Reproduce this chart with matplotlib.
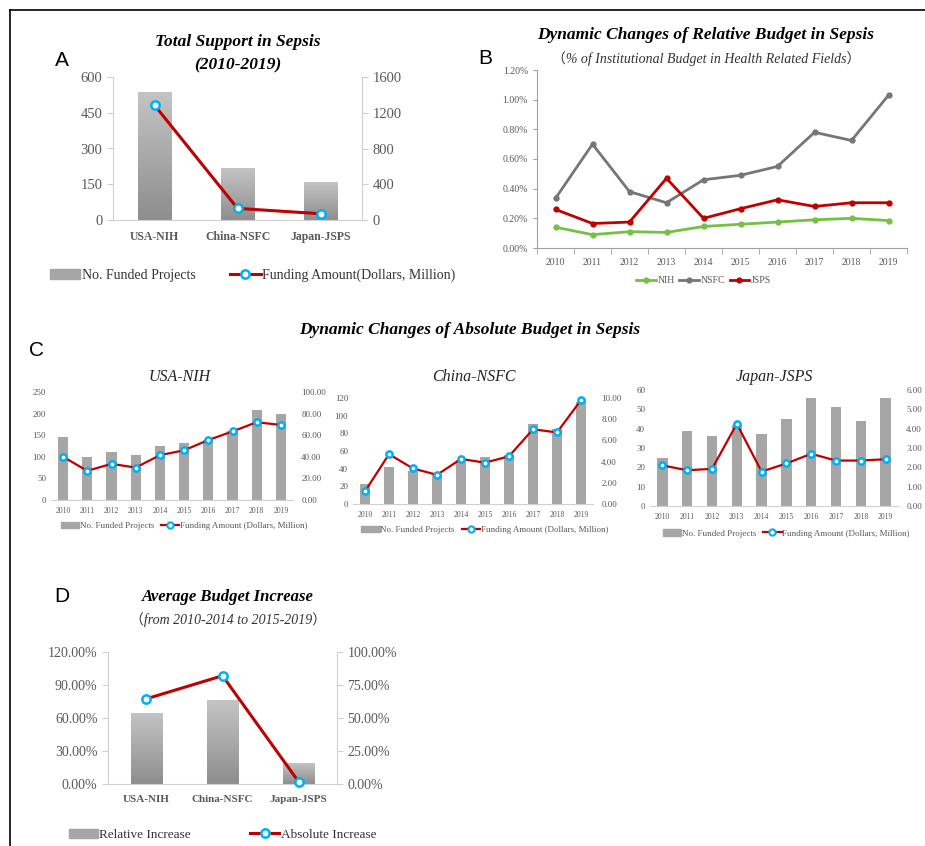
"""
Research funding for sepsis: NIH, NSFC and JSPS, 2010-2019.

A: total support, B: relative budget, C: absolute budget per agency,
D: average budget increase.
"""

import numpy as np
import matplotlib.pyplot as plt
from matplotlib.patches import Patch
from matplotlib.lines import Line2D

# --- Data ------------------------------------------------------------------
agencies = ['USA-NIH', 'China-NSFC', 'Japan-JSPS']
years = [str(y) for y in range(2010, 2020)]

# A: totals 2010-2019
total_projects = [538, 218, 159]
total_funding = [1285, 130, 70]

# B: % of institutional budget in health related fields
rel_nih = [0.14, 0.09, 0.11, 0.105, 0.145, 0.16, 0.175, 0.19, 0.20, 0.185]
rel_nsfc = [0.335, 0.70, 0.38, 0.305, 0.46, 0.49, 0.55, 0.78, 0.725, 1.03]
rel_jsps = [0.26, 0.165, 0.175, 0.47, 0.20, 0.265, 0.325, 0.28, 0.305, 0.305]

# C: yearly projects and funding (Dollars, Million)
nih_projects = [145, 100, 112, 104, 125, 133, 140, 160, 208, 200]
nih_funding = [40, 27, 33.5, 30, 41.5, 46, 55.5, 63.5, 72, 69.5]
nsfc_projects = [23, 42, 37, 33, 50, 53, 55, 90, 85, 115]
nsfc_funding = [1.2, 4.7, 3.35, 2.75, 4.25, 3.9, 4.5, 7.05, 6.75, 9.8]
jsps_projects = [25, 39, 36, 42, 37, 45, 56, 51, 44, 56]
jsps_funding = [2.1, 1.85, 1.92, 4.25, 1.78, 2.2, 2.7, 2.35, 2.35, 2.42]

# D: average increase from 2010-2014 to 2015-2019 (%)
rel_increase = [65, 76, 19.5]
abs_increase = [64.5, 82, 1.5]

# --- Style -----------------------------------------------------------------
plt.rcParams['font.family'] = ['Liberation Serif', 'DejaVu Serif']
W, H = 925, 846
TXT = '#595959'
SPINE = '#d0d0d0'
RED = '#c00000'
BLUE = '#00b0f0'
BAR = '#a6a6a6'

fig = plt.figure(figsize=(W / 100, H / 100), dpi=100)


def rect(x0, y0, x1, y1):
    return [x0 / W, 1 - y1 / H, (x1 - x0) / W, (y1 - y0) / H]


def ftext(x, y, s, **kw):
    fig.text(x / W, 1 - y / H, s, **kw)


def style(ax, fs, left_spine=True):
    for s in ['top', 'right']:
        ax.spines[s].set_visible(False)
    ax.spines['left'].set_visible(left_spine)
    ax.spines['left'].set_color(SPINE)
    ax.spines['bottom'].set_color(SPINE)
    ax.tick_params(axis='both', colors=SPINE, labelcolor=TXT, labelsize=fs,
                   length=4)
    ax.tick_params(axis='x', length=0)


def gradient_bars(ax, x, h, width):
    bars = ax.bar(x, h, width, color='none', edgecolor='none', zorder=2)
    grad = np.linspace(0, 1, 100).reshape(-1, 1)
    cmap = plt.matplotlib.colors.LinearSegmentedColormap.from_list(
        'g', ['#8e8e8e', '#c4c4c4'])
    for b in bars:
        x0, y0 = b.get_x(), b.get_y()
        im = ax.imshow(grad, cmap=cmap,
                       extent=[x0, x0 + b.get_width(), y0, y0 + b.get_height()],
                       origin='lower', aspect='auto', zorder=2)
        im.set_clip_path(b)
    return bars


def line_markers(ax, x, y, lw=2.2, ms=6):
    ax.plot(x, y, color=RED, lw=lw, marker='o', ms=ms, mfc='white',
            mec=BLUE, mew=1.8, zorder=5, clip_on=False)


# --- Frame -----------------------------------------------------------------
fig.add_artist(Line2D([10 / W, 10 / W], [0, 1 - 10 / H], color='black', lw=1.2))
fig.add_artist(Line2D([10 / W, 1], [1 - 10 / H, 1 - 10 / H], color='black', lw=1.2))

# --- A ---------------------------------------------------------------------
axA = fig.add_axes(rect(113, 77, 362, 220))
xa = np.arange(len(agencies))
gradient_bars(axA, xa, total_projects, 0.4)
axA.set_xlim(-0.5, 2.5)
axA.set_ylim(0, 600)
axA.set_yticks([0, 150, 300, 450, 600])
axA.set_xticks(xa)
axA.set_xticklabels(agencies, fontweight='bold')
style(axA, 10.5)
axA.tick_params(axis='x', labelsize=8.5, pad=8)
axA2 = axA.twinx()
line_markers(axA2, xa, total_funding)
axA2.set_ylim(0, 1600)
axA2.set_yticks([0, 400, 800, 1200, 1600])
for s in ['top', 'left', 'bottom']:
    axA2.spines[s].set_visible(False)
axA2.spines['right'].set_color(SPINE)
axA2.tick_params(axis='y', colors=SPINE, labelcolor=TXT, labelsize=10.5, length=4)
axA.legend(handles=[Patch(color=BAR, label='No. Funded Projects'),
                    Line2D([], [], color=RED, lw=2.2, marker='o', ms=6,
                           mfc='white', mec=BLUE, mew=1.8,
                           label='Funding Amount(Dollars, Million)')],
           loc='upper center', bbox_to_anchor=(0.56, -0.25), ncol=2,
           frameon=False, fontsize=10, labelcolor='#333333',
           handlelength=2.2, handletextpad=0.1, columnspacing=2.5)
ftext(238, 42, 'Total Support in Sepsis', ha='center', va='center',
      fontsize=12.5, fontweight='bold', style='italic')
ftext(238, 65, '(2010-2019)', ha='center', va='center',
      fontsize=12.5, fontweight='bold', style='italic')
ftext(62, 60, 'A', fontsize=15, family='Liberation Sans', va='center', ha='center')

# --- B ---------------------------------------------------------------------
axB = fig.add_axes(rect(537, 70, 907, 248))
xb = np.arange(len(years))
axB.plot(xb, rel_nih, color='#76c043', lw=2.0, marker='o', ms=3.5, label='NIH')
axB.plot(xb, rel_nsfc, color='#767676', lw=2.0, marker='o', ms=3.5, label='NSFC')
axB.plot(xb, rel_jsps, color=RED, lw=2.0, marker='o', ms=3.5, label='JSPS')
axB.set_xlim(-0.5, 9.5)
axB.set_ylim(0, 1.2)
axB.set_yticks(np.arange(0, 1.21, 0.2))
axB.set_yticklabels([f'{v:.2f}%' for v in np.arange(0, 1.21, 0.2)])
axB.set_xticks(xb)
axB.set_xticklabels(years)
style(axB, 7)
axB.spines['left'].set_color('#a0a0a0')
axB.spines['bottom'].set_color('#a0a0a0')
axB.tick_params(axis='y', colors='#a0a0a0', labelcolor=TXT, length=3)
axB.set_xticks(np.arange(-0.5, 10, 1), minor=True)
axB.tick_params(axis='x', which='minor', length=4, colors='#a0a0a0')
axB.tick_params(axis='x', pad=7)
axB.legend(loc='upper center', bbox_to_anchor=(0.45, -0.11), ncol=3,
           frameon=False, fontsize=7, labelcolor=TXT, handlelength=2.0,
           handletextpad=0.15, columnspacing=0.5)
ftext(706, 35, 'Dynamic Changes of Relative Budget in Sepsis', ha='center',
      va='center', fontsize=12.5, fontweight='bold', style='italic')
ftext(706, 59, '（% of Institutional Budget in Health Related Fields）',
      ha='center', va='center', fontsize=10, style='italic', color='#333333',
      family=['Liberation Serif', 'Noto Sans CJK SC'])
ftext(485, 58, 'B', fontsize=15, family='Liberation Sans', va='center', ha='center')

# --- C ---------------------------------------------------------------------
ftext(470, 330, 'Dynamic Changes of Absolute Budget in Sepsis', ha='center',
      va='center', fontsize=12.5, fontweight='bold', style='italic')
ftext(36, 350, 'C', fontsize=15, family='Liberation Sans', va='center', ha='center')

c_panels = [
    ('USA-NIH', (51, 392, 293, 500), nih_projects, nih_funding,
     (0, 250, 50), (0, 100, 20), 180),
    ('China-NSFC', (353, 398, 593, 504), nsfc_projects, nsfc_funding,
     (0, 120, 20), (0, 10, 2), 474),
    ('Japan-JSPS', (650, 390, 898, 506), jsps_projects, jsps_funding,
     (0, 60, 10), (0, 6, 1), 774),
]
for name, box, proj, fund, yl, yr, tx in c_panels:
    ax = fig.add_axes(rect(*box))
    ax.bar(xb, proj, 0.42, color=BAR, zorder=2)
    ax.set_xlim(-0.5, 9.5)
    ax.set_ylim(yl[0], yl[1])
    ax.set_yticks(np.arange(yl[0], yl[1] + 0.1, yl[2]))
    ax.set_xticks(xb)
    ax.set_xticklabels(years)
    style(ax, 6.5, left_spine=False)
    ax.tick_params(axis='y', length=0)
    ax.tick_params(axis='x', labelsize=5.5, pad=5)
    ax2 = ax.twinx()
    line_markers(ax2, xb, fund, lw=1.6, ms=4.5)
    ax2.set_ylim(yr[0], yr[1])
    ticks = np.arange(yr[0], yr[1] + 0.01, yr[2])
    ax2.set_yticks(ticks)
    ax2.set_yticklabels([f'{v:.2f}' for v in ticks])
    for s in ['top', 'left', 'bottom', 'right']:
        ax2.spines[s].set_visible(False)
    ax2.tick_params(axis='y', length=0, labelcolor=TXT, labelsize=6.5, pad=6)
    ax.legend(handles=[Patch(color=BAR, label='No. Funded Projects'),
                       Line2D([], [], color=RED, lw=1.6, marker='o', ms=4.5,
                              mfc='white', mec=BLUE, mew=1.5,
                              label='Funding Amount (Dollars, Million)')],
              loc='upper center', bbox_to_anchor=(0.55, -0.13), ncol=2,
              frameon=False, fontsize=6.5, labelcolor=TXT,
              handlelength=2.0, handletextpad=0.1, columnspacing=0.8)
    ftext(tx, 377, name, ha='center', va='center', fontsize=11.5,
          style='italic', color='#222222')

# --- D ---------------------------------------------------------------------
axD = fig.add_axes(rect(108, 652, 337, 784))
gradient_bars(axD, xa, rel_increase, 0.41)
axD.set_xlim(-0.5, 2.5)
axD.set_ylim(0, 120)
axD.set_yticks(np.arange(0, 121, 30))
axD.set_yticklabels([f'{v:.2f}%' for v in np.arange(0, 121, 30)])
axD.set_xticks(xa)
axD.set_xticklabels(agencies, fontweight='bold')
style(axD, 10)
axD.tick_params(axis='x', labelsize=8, pad=8)
axD2 = axD.twinx()
line_markers(axD2, xa, abs_increase)
axD2.set_ylim(0, 100)
axD2.set_yticks(np.arange(0, 101, 25))
axD2.set_yticklabels([f'{v:.2f}%' for v in np.arange(0, 101, 25)])
for s in ['top', 'left', 'bottom']:
    axD2.spines[s].set_visible(False)
axD2.spines['right'].set_color(SPINE)
axD2.tick_params(axis='y', colors=SPINE, labelcolor=TXT, labelsize=10, length=4)
axD.legend(handles=[Patch(color=BAR, label='Relative Increase'),
                    Line2D([], [], color=RED, lw=2.2, marker='o', ms=6,
                           mfc='white', mec=BLUE, mew=1.8,
                           label='Absolute Increase')],
           loc='upper center', bbox_to_anchor=(0.5, -0.25), ncol=2,
           frameon=False, fontsize=9.5, labelcolor='#333333',
           handlelength=2.2, handletextpad=0.1, columnspacing=4.5)
ftext(228, 597, 'Average Budget Increase', ha='center', va='center',
      fontsize=12, fontweight='bold', style='italic')
ftext(228, 620, '（from 2010-2014 to 2015-2019）', ha='center', va='center',
      fontsize=10, style='italic', color='#333333',
      family=['Liberation Serif', 'Noto Sans CJK SC'])
ftext(62, 597, 'D', fontsize=15, family='Liberation Sans', va='center', ha='center')

fig.savefig('out.png', dpi=100)
